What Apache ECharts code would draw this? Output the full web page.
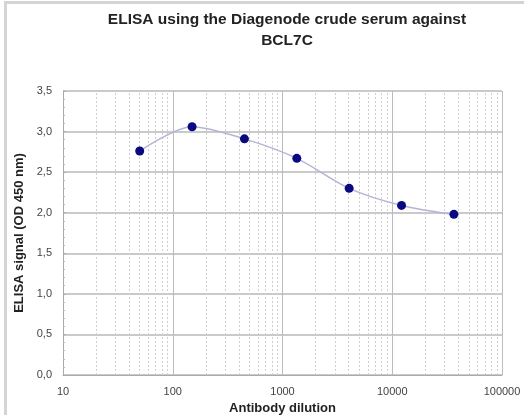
<!DOCTYPE html>
<html>
<head>
<meta charset="utf-8">
<script src="https://cdn.jsdelivr.net/npm/echarts@6/dist/echarts.min.js"></script>
<style>
    body{ margin:0; background:#fff; }
    #frame{
        position:absolute; left:4px; top:1px; width:520px; height:414px;
        border-left:3px solid #d4d4d4; border-top:3px solid #d4d4d4;
    }
    #chart{ position:absolute; left:0; top:0; width:524px; height:415px; }
</style>
</head>
<body>
<div id="frame"></div>
<div id="chart"></div>
<script>
    // 数据
    var dilutions = [50, 150, 450, 1350, 4050, 12150, 36450];
    var signals = [2.76, 3.06, 2.91, 2.67, 2.30, 2.09, 1.98];
    var yTicks = ['0,0', '0,5', '1,0', '1,5', '2,0', '2,5', '3,0', '3,5'];

    // 对数轴次网格线 (2..9 每个十倍)
    var minorX = [];
    for (var d = 10; d < 100000; d *= 10) {
        for (var k = 2; k <= 9; k++) minorX.push({xAxis: d * k});
    }

    var chart = echarts.init(document.getElementById('chart'));
    var option = {
        animation: false,
        title: {
            text: 'ELISA using the Diagenode crude serum against\nBCL7C',
            left: 282, top: 4, textAlign: 'center',
            textStyle: {fontFamily: 'Liberation Sans', fontSize: 15.5, fontWeight: 'bold', color: '#222', lineHeight: 21}
        },
        grid: {left: 63, right: 22, top: 91, bottom: 40, outerBoundsMode: 'none', containLabel: false},
        xAxis: {
            type: 'log', logBase: 10, min: 10, max: 100000,
            name: 'Antibody dilution', nameLocation: 'middle', nameGap: 26,
            nameTextStyle: {fontFamily: 'Liberation Sans', fontSize: 13, fontWeight: 'bold', color: '#222'},
            axisLine: {lineStyle: {color: '#aaa'}},
            axisTick: {show: false},
            axisLabel: {
                fontFamily: 'Liberation Sans', fontSize: 11, color: '#444', margin: 11,
                formatter: function (v) { return String(Math.round(v)); }
            },
            splitLine: {show: true, lineStyle: {color: '#bbb', width: 1}}
        },
        yAxis: {
            type: 'value', min: 0, max: 3.5, interval: 0.5,
            name: 'ELISA signal (OD 450 nm)', nameLocation: 'middle', nameGap: 36,
            nameTextStyle: {fontFamily: 'Liberation Sans', fontSize: 13, fontWeight: 'bold', color: '#222'},
            axisLine: {show: true, lineStyle: {color: '#aaa'}},
            axisTick: {show: true, length: 3, inside: true, lineStyle: {color: '#aaa'}},
            minorTick: {show: true, splitNumber: 5, length: 2, lineStyle: {color: '#bbb'}},
            axisLabel: {
                fontFamily: 'Liberation Sans', fontSize: 11, color: '#444', margin: 11,
                formatter: function (v) { return yTicks[Math.round(v / 0.5)]; }
            },
            splitLine: {show: true, lineStyle: {color: '#b8b8b8', width: 1.5}}
        },
        series: [{
            type: 'line',
            data: dilutions.map(function (x, i) { return [x, signals[i]]; }),
            smooth: 0.3,
            symbol: 'circle', symbolSize: 9,
            lineStyle: {color: '#b4b4d8', width: 1.5},
            itemStyle: {color: '#0a0a80'},
            z: 5,
            markLine: {
                silent: true, symbol: 'none', label: {show: false},
                lineStyle: {color: '#cfcfcf', type: [2, 2], width: 1},
                data: minorX
            }
        }]
    };
    chart.setOption(option);
</script>
</body>
</html>
